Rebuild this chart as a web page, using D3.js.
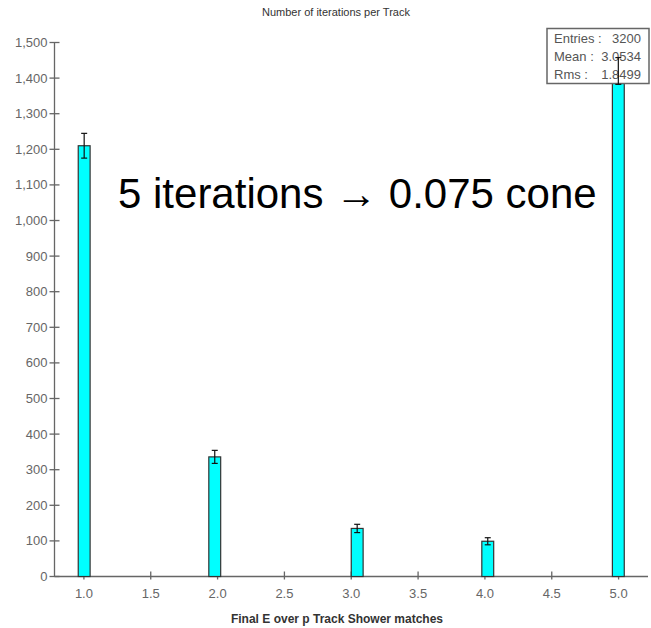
<!DOCTYPE html>
<html>
<head>
<meta charset="utf-8">
<script src="https://cdn.jsdelivr.net/npm/d3@7"></script>
<style>
  body { margin: 0; background: #fff; }
  svg { display: block; font-family: Arial, 'Liberation Sans', sans-serif; }
</style>
</head>
<body>
<div class="content"></div>
<script>
// histogram data (one filled bin per integer)
var binCentres = [1, 2, 3, 4, 5]
var counts = [1210, 336, 135, 99, 1420]
var xTicks = [1.0, 1.5, 2.0, 2.5, 3.0, 3.5, 4.0, 4.5, 5.0]
var yTicks = d3.range(0, 1501, 100)
var statsLabels = ['Entries :', 'Mean :', 'Rms :']
var statsValues = ['3200', '3.0534', '1.8499']

var xLo = 0.78, xHi = 5.22, nBins = 50
var binW = (xHi - xLo) / nBins

var width = 651, height = 628

var x = d3.scaleLinear().domain([xLo, xHi]).range([54.5, 648])
var y = d3.scaleLinear().domain([0, 1500]).range([576.5, 42.5])

var svg = d3.select('.content').append('svg')
    .attr('width', width)
    .attr('height', height)

svg.append('text')
    .attr('x', 336)
    .attr('y', 16)
    .attr('text-anchor', 'middle')
    .style('font-size', '11px')
    .style('fill', '#333')
    .text('Number of iterations per Track')

// axes
var axisColor = '#666'
svg.append('line')
    .attr('x1', x.range()[0]).attr('x2', x.range()[0])
    .attr('y1', y(1500)).attr('y2', y(0))
    .style('stroke', axisColor).style('stroke-width', 1.3)
svg.append('line')
    .attr('x1', x.range()[0]).attr('x2', x.range()[1])
    .attr('y1', y(0)).attr('y2', y(0))
    .style('stroke', axisColor).style('stroke-width', 1.3)

var yt = svg.append('g').selectAll('g')
    .data(yTicks)
    .enter().append('g')
    .attr('transform', function(d) { return 'translate(0,' + y(d) + ')' })
yt.append('line')
    .attr('x1', x.range()[0] - 5).attr('x2', x.range()[0] + 5)
    .style('stroke', axisColor).style('stroke-width', 1.3)
yt.append('text')
    .attr('x', x.range()[0] - 7)
    .attr('dy', '0.35em')
    .attr('text-anchor', 'end')
    .style('font-size', '13px')
    .style('fill', '#666')
    .text(d3.format(','))

var xt = svg.append('g').selectAll('g')
    .data(xTicks)
    .enter().append('g')
    .attr('transform', function(d) { return 'translate(' + x(d) + ',0)' })
xt.append('line')
    .attr('y1', y(0) - 5).attr('y2', y(0) + 3)
    .style('stroke', axisColor).style('stroke-width', 1.3)
xt.append('text')
    .attr('y', 598)
    .attr('text-anchor', 'middle')
    .style('font-size', '13px')
    .style('fill', '#666')
    .text(d3.format('.1f'))

svg.append('text')
    .attr('x', 337)
    .attr('y', 623)
    .attr('text-anchor', 'middle')
    .style('font-size', '12px')
    .style('font-weight', 'bold')
    .style('fill', '#333')
    .text('Final E over p Track Shower matches')

// bars
var data = binCentres.map(function(c, i) {
    var k = Math.floor((c - xLo) / binW + 1e-9)
    return { lo: xLo + k * binW, n: counts[i] }
})

svg.append('g').selectAll('rect')
    .data(data)
    .enter().append('rect')
    .attr('x', function(d) { return x(d.lo) })
    .attr('width', function(d) { return x(d.lo + binW) - x(d.lo) })
    .attr('y', function(d) { return y(d.n) })
    .attr('height', function(d) { return y(0) - y(d.n) })
    .style('fill', '#00ffff')
    .style('stroke', '#333')
    .style('stroke-width', 1.2)

// stats box
var box = svg.append('g')
box.append('rect')
    .attr('x', 547).attr('y', 28.5)
    .attr('width', 102).attr('height', 55)
    .style('fill', '#fff')
    .style('stroke', '#666')
    .style('stroke-width', 1.5)
box.selectAll('text.lab')
    .data(statsLabels)
    .enter().append('text')
    .attr('class', 'lab')
    .attr('x', 554)
    .attr('y', function(d, i) { return 43 + i * 18 })
    .style('font-size', '13px')
    .style('fill', '#555')
    .text(function(d) { return d })
box.selectAll('text.val')
    .data(statsValues)
    .enter().append('text')
    .attr('class', 'val')
    .attr('x', 641)
    .attr('y', function(d, i) { return 43 + i * 18 })
    .attr('text-anchor', 'end')
    .style('font-size', '13px')
    .style('fill', '#555')
    .text(function(d) { return d })

// error bars (sqrt N), drawn on top of the box
var eb = svg.append('g').selectAll('g')
    .data(data)
    .enter().append('g')
    .attr('transform', function(d) { return 'translate(' + x(d.lo + binW / 2) + ',0)' })
    .style('stroke', '#111')
    .style('stroke-width', 1.2)
eb.append('line')
    .attr('y1', function(d) { return y(d.n + Math.sqrt(d.n)) })
    .attr('y2', function(d) { return y(d.n - Math.sqrt(d.n)) })
eb.append('line')
    .attr('x1', -3).attr('x2', 3)
    .attr('y1', function(d) { return y(d.n + Math.sqrt(d.n)) })
    .attr('y2', function(d) { return y(d.n + Math.sqrt(d.n)) })
eb.append('line')
    .attr('x1', -3).attr('x2', 3)
    .attr('y1', function(d) { return y(d.n - Math.sqrt(d.n)) })
    .attr('y2', function(d) { return y(d.n - Math.sqrt(d.n)) })

svg.append('text')
    .attr('x', 118)
    .attr('y', 208)
    .style('font-size', '42px')
    .style('fill', '#000')
    .text('5 iterations \u2192 0.075 cone')
</script>
</body>
</html>
